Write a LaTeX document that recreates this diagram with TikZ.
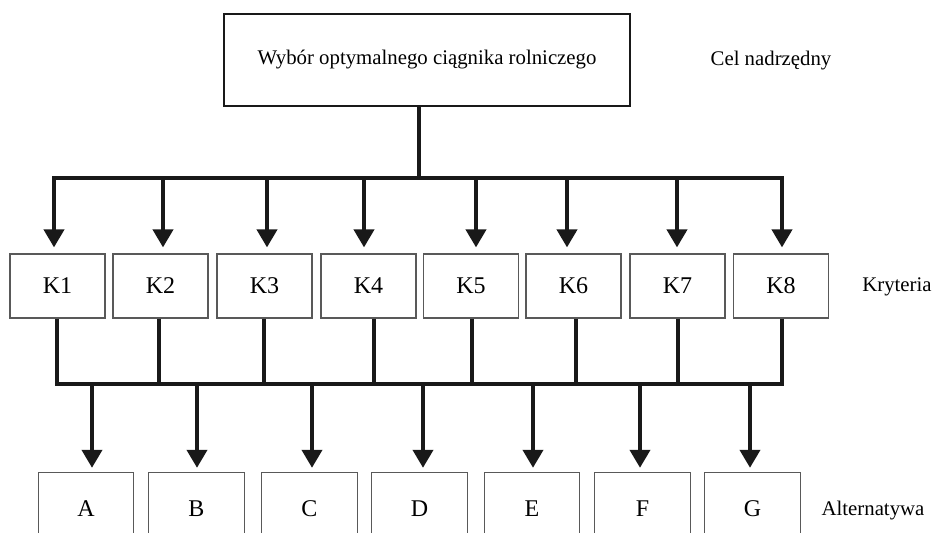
\documentclass[tikz,border=0pt]{standalone}
\usepackage{fontspec}
\setmainfont{Liberation Serif}
\usetikzlibrary{arrows.meta}
\begin{document}
\begin{tikzpicture}[x=1pt,y=-1pt,
 thickline/.style={line width=4pt, draw=black!90},
 arr/.style={thickline, -{Triangle[width=20pt,length=18pt]}},
 topbox/.style={draw=black!90, line width=2pt, minimum width=406pt, minimum height=92pt, inner sep=0pt, font=\fontsize{20.8}{25}\selectfont},
 kbox/.style={draw=black!65, line width=1.2pt, minimum width=95pt, minimum height=64pt, inner sep=0pt, font=\fontsize{24}{28}\selectfont},
 altbox/.style={minimum width=95pt, minimum height=72pt, inner sep=0pt, font=\fontsize{24}{28}\selectfont},
 altedge/.style={draw=black!65, line width=1.2pt},
 side/.style={font=\fontsize{20.8}{25}\selectfont, inner sep=0pt, anchor=base},
]
\useasboundingbox (0,0) rectangle (935,533);

% top goal
\node[topbox] (top) at (427,60) {Wybór optymalnego ciągnika rolniczego};
\node[side] (cel) at (771,65) {Cel nadrzędny};

% criteria
\node[kbox] (K1) at (57.5,286) {K1};
\node[kbox] (K2) at (160.5,286) {K2};
\node[kbox] (K3) at (264.5,286) {K3};
\node[kbox] (K4) at (368.5,286) {K4};
\node[kbox] (K5) at (471,286) {K5};
\node[kbox] (K6) at (573.5,286) {K6};
\node[kbox] (K7) at (677.5,286) {K7};
\node[kbox] (K8) at (781,286) {K8};
\node[side] (kryt) at (897,291) {Kryteria};

% alternatives
\node[altbox] (A) at (86,509) {A};
\node[altbox] (B) at (196.5,509) {B};
\node[altbox] (C) at (309.5,509) {C};
\node[altbox] (D) at (419.5,509) {D};
\node[altbox] (E) at (532,509) {E};
\node[altbox] (F) at (642.5,509) {F};
\node[altbox] (G) at (752.5,509) {G};
\node[side] (alt) at (873,515) {Alternatywa};

\coordinate (bot) at (0,533);
\foreach \n in {A,B,C,D,E,F,G}{
  \draw[altedge] (\n.north west |- bot) -- (\n.north west) -- (\n.north east) -- (\n.north east |- bot);
}

% upper distribution
\coordinate (tj) at (419,178);
\draw[thickline] (top.south -| tj) -- (tj);
\coordinate (t1) at (54,178);
\coordinate (t2) at (163,178);
\coordinate (t3) at (267,178);
\coordinate (t4) at (364,178);
\coordinate (t5) at (476,178);
\coordinate (t6) at (567,178);
\coordinate (t7) at (677,178);
\coordinate (t8) at (782,178);
\draw[thickline, line cap=rect] (t1) -- (t8);
\foreach \i in {1,...,8}{
  \draw[arr, shorten >=6pt] (t\i) -- (t\i |- K\i.north);
}

% lower collection
\coordinate (b1) at (57,384);
\coordinate (b2) at (159,384);
\coordinate (b3) at (264,384);
\coordinate (b4) at (374,384);
\coordinate (b5) at (472,384);
\coordinate (b6) at (576,384);
\coordinate (b7) at (678,384);
\coordinate (b8) at (782,384);
\foreach \i in {1,...,8}{
  \draw[thickline] (K\i.south -| b\i) -- (b\i);
}
\draw[thickline, line cap=rect] (b1) -- (b8);

\coordinate (aA) at (92,384);
\coordinate (aB) at (197,384);
\coordinate (aC) at (312,384);
\coordinate (aD) at (423,384);
\coordinate (aE) at (533,384);
\coordinate (aF) at (640,384);
\coordinate (aG) at (750,384);
\foreach \n in {A,B,C,D,E,F,G}{
  \draw[arr, shorten >=5pt] (a\n) -- (a\n |- \n.north);
}
\end{tikzpicture}
\end{document}
